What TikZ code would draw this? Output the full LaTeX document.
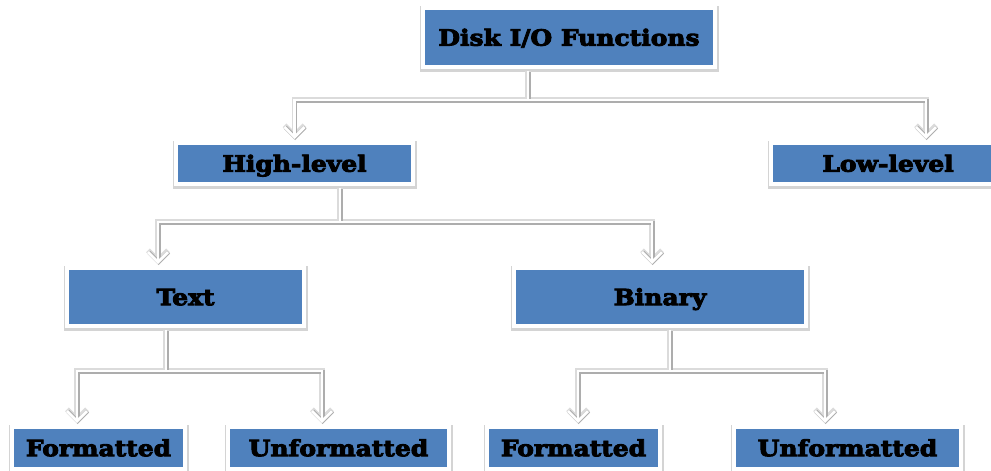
\documentclass[tikz,border=0pt]{standalone}
\usepackage{fontspec}
\setmainfont{DejaVu Serif}
\newfontfamily\boxfont{DejaVu Serif}[BoldFeatures={FakeStretch=1.12,FakeBold=4}]
\usetikzlibrary{arrows.meta,shadows}

\definecolor{boxblue}{HTML}{4F81BD}
\definecolor{connsoft}{gray}{0.86}
\definecolor{connedge}{gray}{0.68}

\tikzset{
  box/.style={rectangle, fill=boxblue, draw=white, line width=4pt,
    inner sep=0pt, text=black, text height=16.3pt, text depth=0pt,
    font=\boxfont\fontsize{22.3}{25}\selectfont\bfseries,
    drop shadow={shadow xshift=0.5pt, shadow yshift=-1pt, opacity=0.17,
      fill=black, draw=black, line width=7pt}},
  tipshape/.style={-{Straight Barb[length=10pt,width=20pt]}},
  connsoftline/.style={tipshape, draw=connsoft, line width=5.2pt},
  connback/.style={tipshape, draw=connedge, line width=4pt,
    transform canvas={xshift=0.6pt,yshift=-1pt}},
  connfront/.style={tipshape, draw=white, line width=2.8pt},
}

\begin{document}
\begin{tikzpicture}[x=1pt,y=-1pt]
  \useasboundingbox (0,0) rectangle (991,471);
  \fill[white] (0,0) rectangle (991,471);

  % boxes
  \node[box, minimum width=292pt, minimum height=59pt] (disk) at (569,37.5) {Disk I/O Functions};
  \node[box, minimum width=237pt, minimum height=41pt] (high) at (294.5,163.5) {High-level};
  \node[box, minimum width=234pt, minimum height=41pt] (low) at (888,163.5) {Low-level};
  \node[box, minimum width=237pt, minimum height=58pt] (text) at (185.5,297) {Text};
  \node[box, minimum width=292pt, minimum height=58pt] (binary) at (660,297) {Binary};
  \node[box, minimum width=173pt, minimum height=42pt] (fmtA) at (98.5,448) {Formatted};
  \node[box, minimum width=221pt, minimum height=42pt] (unfA) at (338.5,448) {Unformatted};
  \node[box, minimum width=173pt, minimum height=42pt] (fmtB) at (573.5,448) {Formatted};
  \node[box, minimum width=227pt, minimum height=42pt] (unfB) at (847.5,448) {Unformatted};

  % branch levels
  \coordinate (busA) at (0,100);
  \coordinate (busB) at (0,222);
  \coordinate (busC) at (0,371);

  % stems leaving each parent
  \coordinate (sDisk) at ([xshift=-41pt,yshift=-2pt]disk.south);
  \coordinate (sHigh) at ([xshift=45.5pt,yshift=-2pt]high.south);
  \coordinate (sText) at ([xshift=-19.5pt,yshift=-2pt]text.south);
  \coordinate (sBin)  at ([xshift=10pt,yshift=-2pt]binary.south);

  % arrow ends on each child
  \coordinate (eHigh) at ([yshift=2pt]high.north);
  \coordinate (eLow)  at ([xshift=38pt,yshift=2pt]low.north);
  \coordinate (eText) at ([xshift=-27.5pt,yshift=2pt]text.north);
  \coordinate (eBin)  at ([xshift=-8pt,yshift=2pt]binary.north);
  \coordinate (eFmtA) at ([xshift=-21.5pt,yshift=2pt]fmtA.north);
  \coordinate (eUnfA) at ([xshift=-16.5pt,yshift=2pt]unfA.north);
  \coordinate (eFmtB) at ([xshift=4.5pt,yshift=2pt]fmtB.north);
  \coordinate (eUnfB) at ([xshift=-22.5pt,yshift=2pt]unfB.north);

  % connectors: soft halo, grey shadow, then the white line on top
  \foreach \layer in {connsoftline,connback,connfront}{
    \draw[\layer] (sDisk) -- (sDisk |- busA) -| (eHigh);
    \draw[\layer] (sDisk) -- (sDisk |- busA) -| (eLow);
    \draw[\layer] (sHigh) -- (sHigh |- busB) -| (eText);
    \draw[\layer] (sHigh) -- (sHigh |- busB) -| (eBin);
    \draw[\layer] (sText) -- (sText |- busC) -| (eFmtA);
    \draw[\layer] (sText) -- (sText |- busC) -| (eUnfA);
    \draw[\layer] (sBin) -- (sBin |- busC) -| (eFmtB);
    \draw[\layer] (sBin) -- (sBin |- busC) -| (eUnfB);
  }
\end{tikzpicture}
\end{document}
